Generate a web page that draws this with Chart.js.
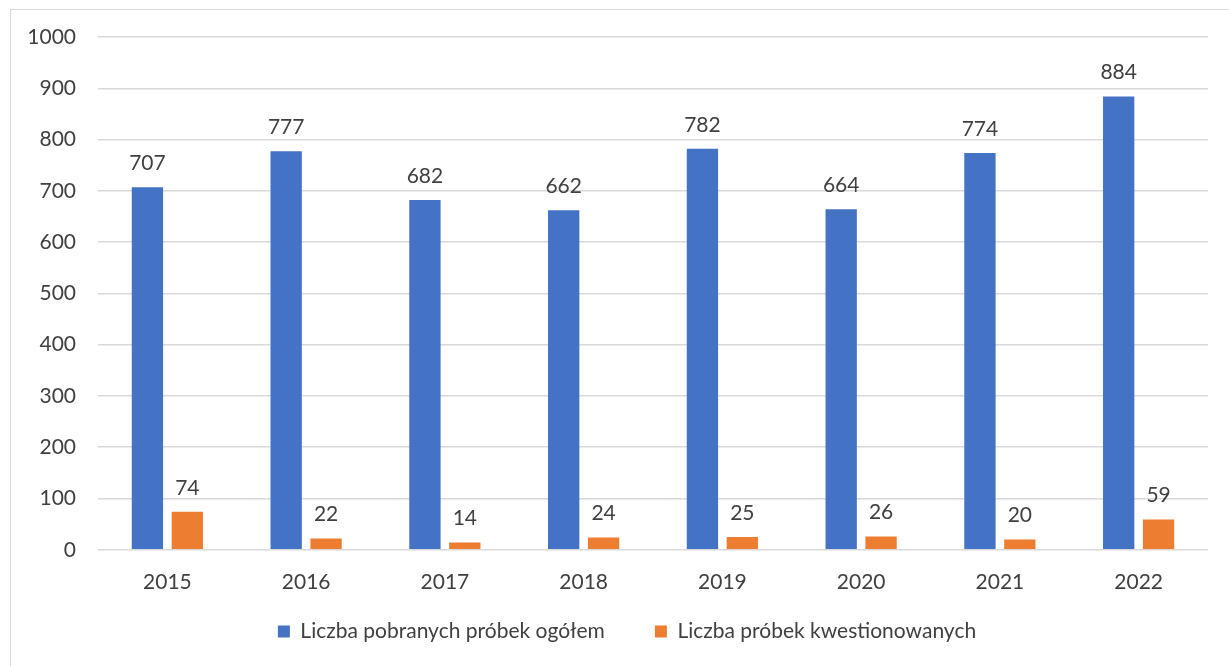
<!DOCTYPE html>
<html lang="pl">
<head>
<meta charset="UTF-8">
<title>Liczba próbek 2015-2022</title>
<script src="https://cdn.jsdelivr.net/npm/chart.js"></script>
<style>
  html, body { margin: 0; padding: 0; background: #fff; overflow: hidden; }
  .frame { position: absolute; left: 10px; top: 9px; width: 1240px; height: 680px; border: 1.5px solid #d9d9d9; }
  .wrap { position: absolute; left: 0; top: 0; width: 1229px; height: 666px; }
</style>
</head>
<body>
<div class="frame"></div>
<div class="wrap"><canvas id="chart"></canvas></div>
<script>
// dane
const years = ['2015', '2016', '2017', '2018', '2019', '2020', '2021', '2022'];
const totalSamples = [707, 777, 682, 662, 782, 664, 774, 884];
const questionedSamples = [74, 22, 14, 24, 25, 26, 20, 59];
const seriesNames = ['Liczba pobranych próbek ogółem', 'Liczba próbek kwestionowanych'];

const FONT = 'Lato, "Open Sans", sans-serif';
const TEXT = '#404040';

// etykiety wartości nad słupkami
const valueLabels = {
  id: 'valueLabels',
  afterDatasetsDraw(chart) {
    const ctx = chart.ctx;
    ctx.save();
    ctx.font = '21px ' + FONT;
    ctx.fillStyle = TEXT;
    ctx.textAlign = 'center';
    ctx.textBaseline = 'middle';
    chart.data.datasets.forEach((ds, i) => {
      chart.getDatasetMeta(i).data.forEach((bar, j) => {
        ctx.fillText(ds.data[j], bar.x, bar.y - 24);
      });
    });
    ctx.restore();
  }
};

// legenda: duży odstęp między pozycjami, ale niższa i przesunięta
const legendHeight = {
  id: 'legendHeight',
  beforeUpdate(chart) {
    const lg = chart.legend;
    if (lg && !lg._patched) {
      const fit = lg.fit;
      lg.fit = function () { fit.call(this); this.height = 59; };
      lg._patched = true;
    }
  },
  afterLayout(chart) {
    const lg = chart.legend;
    lg.top -= 36; lg.height += 36;
    lg.left += 18; lg.right += 18;
  }
};

new Chart(document.getElementById('chart'), {
  type: 'bar',
  data: {
    labels: years,
    datasets: [
      { label: seriesNames[0], data: totalSamples, backgroundColor: '#4472C4' },
      { label: seriesNames[1], data: questionedSamples, backgroundColor: '#ED7D31' }
    ]
  },
  options: {
    responsive: true,
    maintainAspectRatio: false,
    animation: false,
    categoryPercentage: 0.575,
    barPercentage: 0.785,
    layout: { padding: { left: 10, right: 21, top: 37, bottom: 0 } },
    plugins: {
      legend: {
        position: 'bottom',
        labels: { color: TEXT, font: { family: FONT, size: 21 }, boxWidth: 12, boxHeight: 12, padding: 50 }
      },
      tooltip: { enabled: false }
    },
    scales: {
      x: {
        grid: { display: false },
        border: { display: false },
        ticks: { color: TEXT, font: { family: FONT, size: 21 }, padding: 12 }
      },
      y: {
        min: 0, max: 1000,
        ticks: { stepSize: 100, color: TEXT, font: { family: FONT, size: 21 }, padding: 22, callback: v => String(v) },
        grid: { color: '#d9d9d9', lineWidth: 1.5, drawTicks: false },
        border: { display: false },
        afterFit(axis) { axis.width = 88; }
      }
    }
  },
  plugins: [valueLabels, legendHeight]
});
</script>
</body>
</html>
